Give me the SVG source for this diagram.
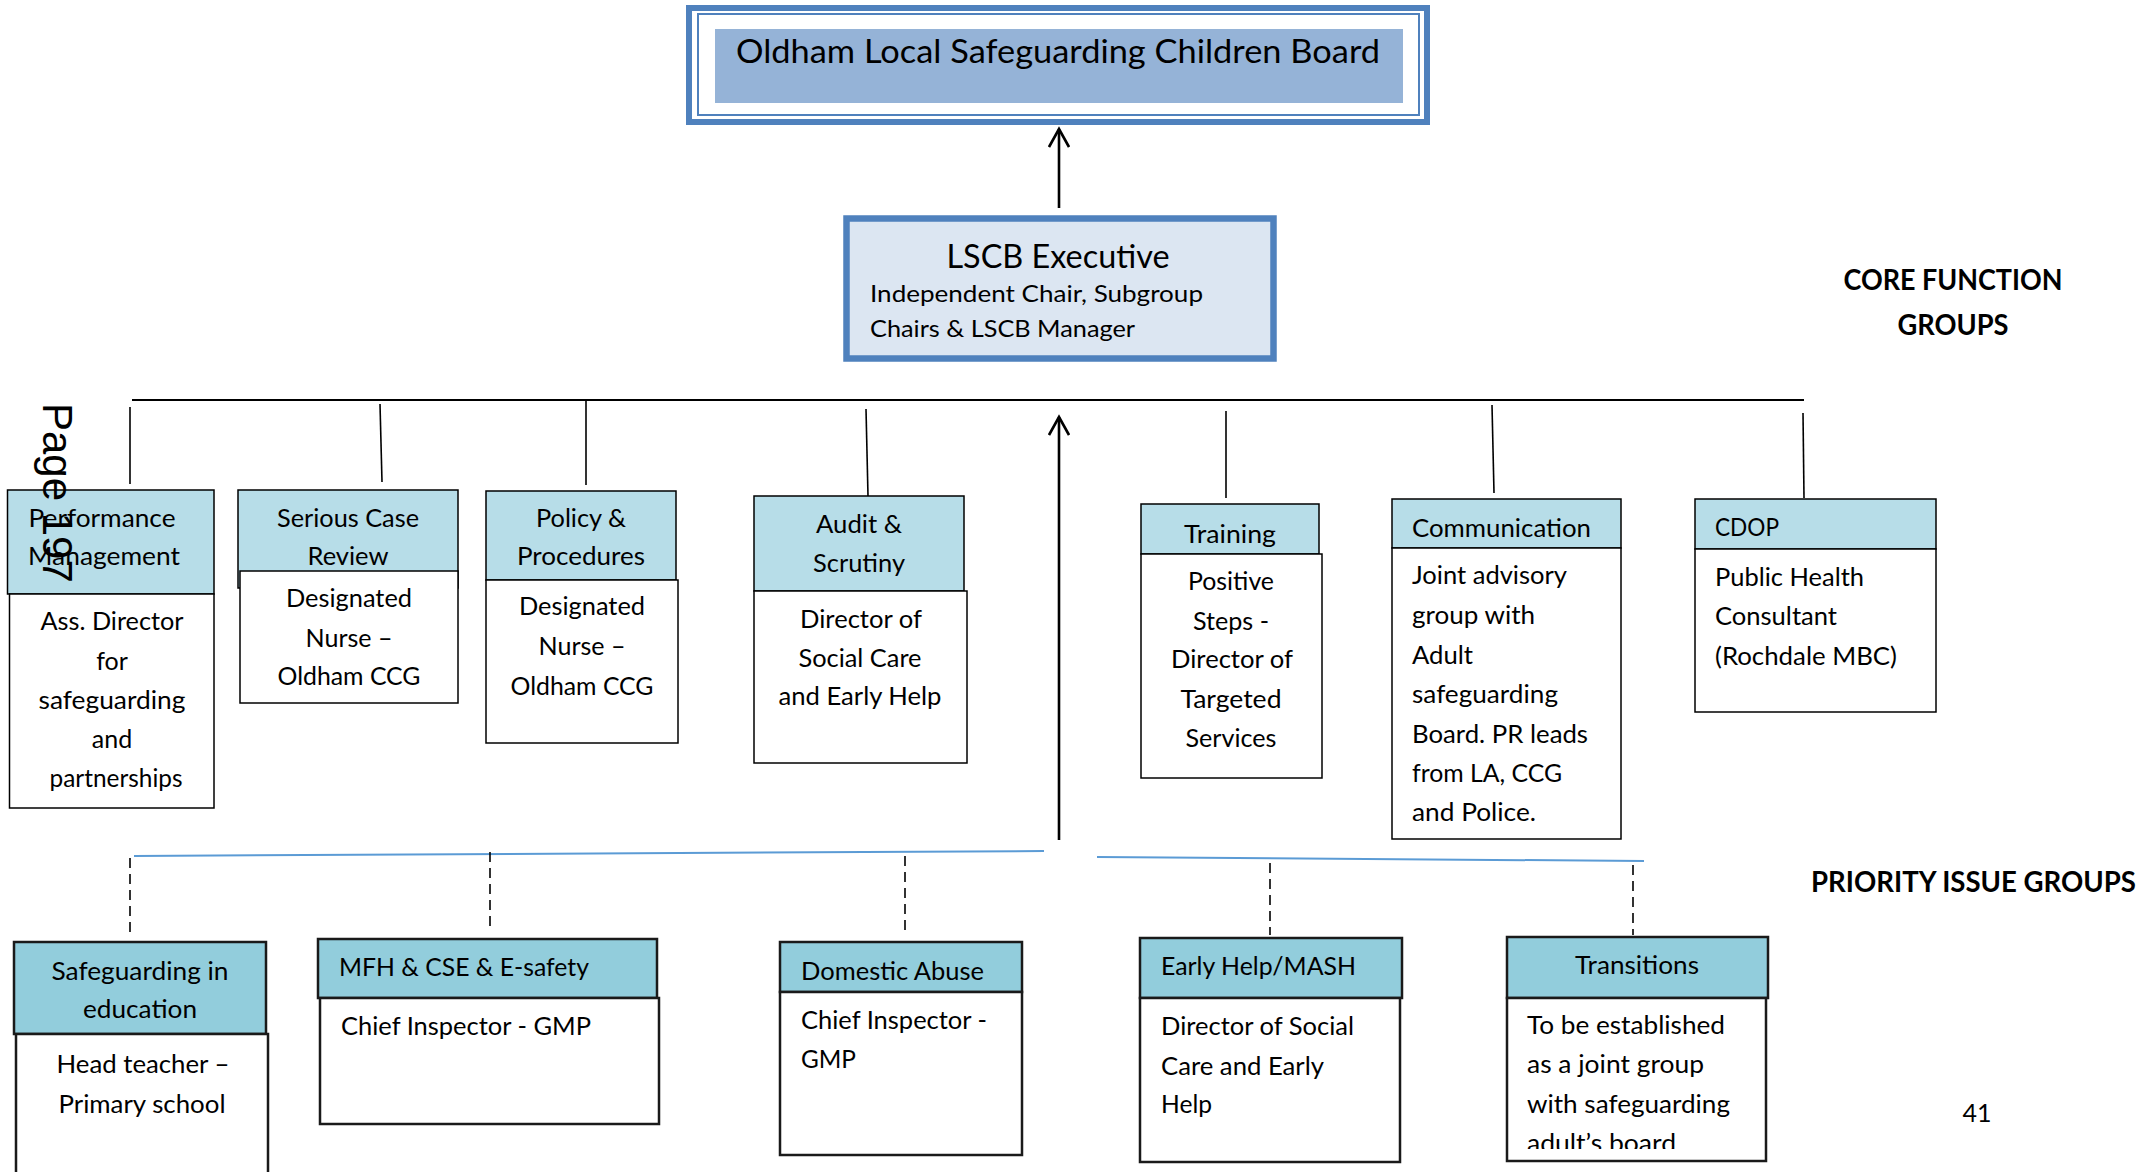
<svg xmlns="http://www.w3.org/2000/svg" width="2154" height="1172" viewBox="0 0 2154 1172">
<style>
.t{font-family:Lato,"Liberation Sans",sans-serif;font-size:25px;fill:#000}
.c{text-anchor:middle}
.b{font-weight:bold}
.h1{fill:#b7dde8;stroke:#000;stroke-width:1.5}
.b1{fill:#fff;stroke:#000;stroke-width:1.5}
.h2{fill:#92cddc;stroke:#1a1a1a;stroke-width:2.5}
.b2{fill:#fff;stroke:#1a1a1a;stroke-width:2.5}
.ln{stroke:#000;stroke-width:1.6;fill:none}
.dash{stroke:#000;stroke-width:1.6;stroke-dasharray:10 6;fill:none}
.blue{stroke:#5b9bd5;stroke-width:2;fill:none}
.arr{stroke:#000;stroke-width:2.6;fill:none}
</style>
<defs>
<marker id="open" viewBox="0 0 22 22" refX="19" refY="11" markerWidth="22" markerHeight="22" markerUnits="userSpaceOnUse" orient="auto">
<path d="M1,1 L19,11 L1,21" fill="none" stroke="#000" stroke-width="2.6"/>
</marker>
<clipPath id="clipT"><rect x="1507" y="998" width="260" height="151"/></clipPath>
</defs>
<rect width="2154" height="1172" fill="#fff"/>

<g id="connectors">
<line class="ln" x1="132" y1="400" x2="1804" y2="400" style="stroke-width:2"/>
<line class="ln" x1="130" y1="407" x2="130" y2="484"/>
<line class="ln" x1="380" y1="404" x2="382" y2="482"/>
<line class="ln" x1="586" y1="401" x2="586" y2="485"/>
<line class="ln" x1="866" y1="409" x2="868" y2="496"/>
<line class="ln" x1="1226" y1="411" x2="1226" y2="498"/>
<line class="ln" x1="1492" y1="405" x2="1494" y2="493"/>
<line class="ln" x1="1803" y1="413" x2="1804" y2="498"/>
<line class="arr" x1="1059" y1="208" x2="1059" y2="129" marker-end="url(#open)"/>
<line class="arr" x1="1059" y1="840" x2="1059" y2="417" marker-end="url(#open)"/>
<line class="blue" x1="134" y1="856" x2="1044" y2="851"/>
<line class="blue" x1="1097" y1="857" x2="1644" y2="861"/>
<line class="dash" x1="130" y1="858" x2="130" y2="935"/>
<line class="dash" x1="490" y1="852" x2="490" y2="928"/>
<line class="dash" x1="905" y1="856" x2="905" y2="933"/>
<line class="dash" x1="1270" y1="863" x2="1270" y2="935"/>
<line class="dash" x1="1633" y1="865" x2="1633" y2="935"/>
</g>

<g id="board">
<rect x="689" y="8" width="738" height="114" fill="#fff" stroke="#4f81bd" stroke-width="6"/>
<rect x="698" y="14" width="721" height="101" fill="none" stroke="#4f81bd" stroke-width="2"/>
<rect x="715" y="29" width="688" height="74" fill="#95b3d7"/>
<text class="t c" x="1058" y="63" style="font-size:33px" textLength="644" lengthAdjust="spacingAndGlyphs">Oldham Local Safeguarding Children Board</text>
</g>

<g id="executive">
<rect x="846.5" y="218.5" width="427" height="140" fill="#dce6f2" stroke="#4f81bd" stroke-width="6.5"/>
<text class="t c" x="1058" y="268" style="font-size:33px" textLength="223" lengthAdjust="spacingAndGlyphs">LSCB Executive</text>
<text class="t" x="870" y="302" style="font-size:24px" textLength="333" lengthAdjust="spacingAndGlyphs">Independent Chair, Subgroup</text>
<text class="t" x="870" y="337" style="font-size:24px" textLength="265" lengthAdjust="spacingAndGlyphs">Chairs &amp; LSCB Manager</text>
</g>

<g id="performance">
<rect class="h1" x="7.5" y="490" width="206.5" height="104"/>
<rect class="b1" x="9.5" y="594" width="204.5" height="214"/>
<text class="t c" x="102" y="527" textLength="147" lengthAdjust="spacingAndGlyphs">Performance</text>
<text class="t c" x="104" y="565" textLength="152" lengthAdjust="spacingAndGlyphs">Management</text>
<text class="t c" x="112" y="630" textLength="143" lengthAdjust="spacingAndGlyphs">Ass. Director</text>
<text class="t c" x="112" y="670">for</text>
<text class="t c" x="112" y="709" textLength="147" lengthAdjust="spacingAndGlyphs">safeguarding</text>
<text class="t c" x="112" y="748">and</text>
<text class="t c" x="116" y="787" textLength="133" lengthAdjust="spacingAndGlyphs">partnerships</text>
</g>

<g id="serious-case-review">
<rect class="h1" x="238" y="490" width="220" height="98"/>
<rect class="b1" x="240" y="571" width="218" height="132"/>
<text class="t c" x="348" y="527" textLength="142" lengthAdjust="spacingAndGlyphs">Serious Case</text>
<text class="t c" x="348" y="565" textLength="81" lengthAdjust="spacingAndGlyphs">Review</text>
<text class="t c" x="349" y="607" textLength="126" lengthAdjust="spacingAndGlyphs">Designated</text>
<text class="t c" x="349" y="647" textLength="87" lengthAdjust="spacingAndGlyphs">Nurse –</text>
<text class="t c" x="349" y="685" textLength="143" lengthAdjust="spacingAndGlyphs">Oldham CCG</text>
</g>

<g id="policy">
<rect class="h1" x="486" y="491" width="190" height="89"/>
<rect class="b1" x="486" y="580" width="192" height="163"/>
<text class="t c" x="581" y="527" textLength="90" lengthAdjust="spacingAndGlyphs">Policy &amp;</text>
<text class="t c" x="581" y="565" textLength="128" lengthAdjust="spacingAndGlyphs">Procedures</text>
<text class="t c" x="582" y="615" textLength="126" lengthAdjust="spacingAndGlyphs">Designated</text>
<text class="t c" x="582" y="655" textLength="87" lengthAdjust="spacingAndGlyphs">Nurse –</text>
<text class="t c" x="582" y="695" textLength="143" lengthAdjust="spacingAndGlyphs">Oldham CCG</text>
</g>

<g id="audit">
<rect class="h1" x="754" y="496" width="210" height="95"/>
<rect class="b1" x="754" y="591" width="213" height="172"/>
<text class="t c" x="859" y="533" textLength="86" lengthAdjust="spacingAndGlyphs">Audit &amp;</text>
<text class="t c" x="859" y="572" textLength="92" lengthAdjust="spacingAndGlyphs">Scrutiny</text>
<text class="t c" x="861" y="628" textLength="122" lengthAdjust="spacingAndGlyphs">Director of</text>
<text class="t c" x="860" y="667" textLength="123" lengthAdjust="spacingAndGlyphs">Social Care</text>
<text class="t c" x="860" y="705" textLength="163" lengthAdjust="spacingAndGlyphs">and Early Help</text>
</g>

<g id="training">
<rect class="h1" x="1141" y="504" width="178" height="50"/>
<rect class="b1" x="1141" y="554" width="181" height="224"/>
<text class="t c" x="1230" y="543" textLength="92" lengthAdjust="spacingAndGlyphs">Training</text>
<text class="t c" x="1231" y="590" textLength="86" lengthAdjust="spacingAndGlyphs">Positive</text>
<text class="t c" x="1231" y="630" textLength="76" lengthAdjust="spacingAndGlyphs">Steps -</text>
<text class="t c" x="1232" y="668" textLength="122" lengthAdjust="spacingAndGlyphs">Director of</text>
<text class="t c" x="1231" y="708" textLength="101" lengthAdjust="spacingAndGlyphs">Targeted</text>
<text class="t c" x="1231" y="747" textLength="91" lengthAdjust="spacingAndGlyphs">Services</text>
</g>

<g id="communication">
<rect class="h1" x="1392" y="499" width="229" height="49"/>
<rect class="b1" x="1392" y="548" width="229" height="291"/>
<text class="t" x="1412" y="537" textLength="179" lengthAdjust="spacingAndGlyphs">Communication</text>
<text class="t" x="1412" y="584" textLength="155" lengthAdjust="spacingAndGlyphs">Joint advisory</text>
<text class="t" x="1412" y="624" textLength="123" lengthAdjust="spacingAndGlyphs">group with</text>
<text class="t" x="1412" y="664" textLength="61" lengthAdjust="spacingAndGlyphs">Adult</text>
<text class="t" x="1412" y="703" textLength="146" lengthAdjust="spacingAndGlyphs">safeguarding</text>
<text class="t" x="1412" y="743" textLength="176" lengthAdjust="spacingAndGlyphs">Board. PR leads</text>
<text class="t" x="1412" y="782" textLength="150" lengthAdjust="spacingAndGlyphs">from LA, CCG</text>
<text class="t" x="1412" y="821" textLength="124" lengthAdjust="spacingAndGlyphs">and Police.</text>
</g>

<g id="cdop">
<rect class="h1" x="1695" y="499" width="241" height="50"/>
<rect class="b1" x="1695" y="549" width="241" height="163"/>
<text class="t" x="1715" y="536" textLength="64" lengthAdjust="spacingAndGlyphs">CDOP</text>
<text class="t" x="1715" y="586" textLength="149" lengthAdjust="spacingAndGlyphs">Public Health</text>
<text class="t" x="1715" y="625" textLength="122" lengthAdjust="spacingAndGlyphs">Consultant</text>
<text class="t" x="1715" y="665" textLength="182" lengthAdjust="spacingAndGlyphs">(Rochdale MBC)</text>
</g>

<g id="safeguarding-education">
<rect class="h2" x="14" y="942" width="252" height="92"/>
<rect class="b2" x="16" y="1034" width="252" height="160"/>
<text class="t c" x="140" y="980" textLength="177" lengthAdjust="spacingAndGlyphs">Safeguarding in</text>
<text class="t c" x="140" y="1018" textLength="114" lengthAdjust="spacingAndGlyphs">education</text>
<text class="t c" x="143" y="1073" textLength="173" lengthAdjust="spacingAndGlyphs">Head teacher –</text>
<text class="t c" x="142" y="1113" textLength="167" lengthAdjust="spacingAndGlyphs">Primary school</text>
</g>

<g id="mfh">
<rect class="h2" x="318" y="939" width="339" height="59"/>
<rect class="b2" x="320" y="998" width="339" height="126"/>
<text class="t" x="339" y="976" textLength="250" lengthAdjust="spacingAndGlyphs">MFH &amp; CSE &amp; E-safety</text>
<text class="t" x="341" y="1035" textLength="250" lengthAdjust="spacingAndGlyphs">Chief Inspector - GMP</text>
</g>

<g id="domestic-abuse">
<rect class="h2" x="780" y="942" width="242" height="50"/>
<rect class="b2" x="780" y="992" width="242" height="163"/>
<text class="t" x="801" y="980" textLength="183" lengthAdjust="spacingAndGlyphs">Domestic Abuse</text>
<text class="t" x="801" y="1029" textLength="186" lengthAdjust="spacingAndGlyphs">Chief Inspector -</text>
<text class="t" x="801" y="1068" textLength="55" lengthAdjust="spacingAndGlyphs">GMP</text>
</g>

<g id="early-help">
<rect class="h2" x="1140" y="938" width="262" height="60"/>
<rect class="b2" x="1140" y="998" width="260" height="164"/>
<text class="t" x="1161" y="975" textLength="195" lengthAdjust="spacingAndGlyphs">Early Help/MASH</text>
<text class="t" x="1161" y="1035" textLength="193" lengthAdjust="spacingAndGlyphs">Director of Social</text>
<text class="t" x="1161" y="1075" textLength="163" lengthAdjust="spacingAndGlyphs">Care and Early</text>
<text class="t" x="1161" y="1113" textLength="51" lengthAdjust="spacingAndGlyphs">Help</text>
</g>

<g id="transitions">
<rect class="h2" x="1507" y="937" width="261" height="61"/>
<rect class="b2" x="1507" y="998" width="259" height="163"/>
<text class="t c" x="1637" y="974" textLength="124" lengthAdjust="spacingAndGlyphs">Transitions</text>
<text class="t" x="1527" y="1034" textLength="198" lengthAdjust="spacingAndGlyphs">To be established</text>
<text class="t" x="1527" y="1073" textLength="177" lengthAdjust="spacingAndGlyphs">as a joint group</text>
<text class="t" x="1527" y="1113" textLength="203" lengthAdjust="spacingAndGlyphs">with safeguarding</text>
<g clip-path="url(#clipT)"><text class="t" x="1527" y="1152" textLength="149" lengthAdjust="spacingAndGlyphs">adult’s board</text></g>
</g>

<g id="labels">
<text class="t c b" x="1953" y="290" style="font-size:28px" textLength="219" lengthAdjust="spacingAndGlyphs">CORE FUNCTION</text>
<text class="t c b" x="1953" y="335" style="font-size:28px" textLength="111" lengthAdjust="spacingAndGlyphs">GROUPS</text>
<text class="t b" x="1811" y="892" style="font-size:28px" textLength="325" lengthAdjust="spacingAndGlyphs">PRIORITY ISSUE GROUPS</text>
<text class="t c" x="1977" y="1122">41</text>
<text transform="translate(43,403) rotate(90)" style="font-family:'Liberation Sans',Arial,sans-serif;font-size:42px" fill="#000">Page 197</text>
</g>
</svg>
